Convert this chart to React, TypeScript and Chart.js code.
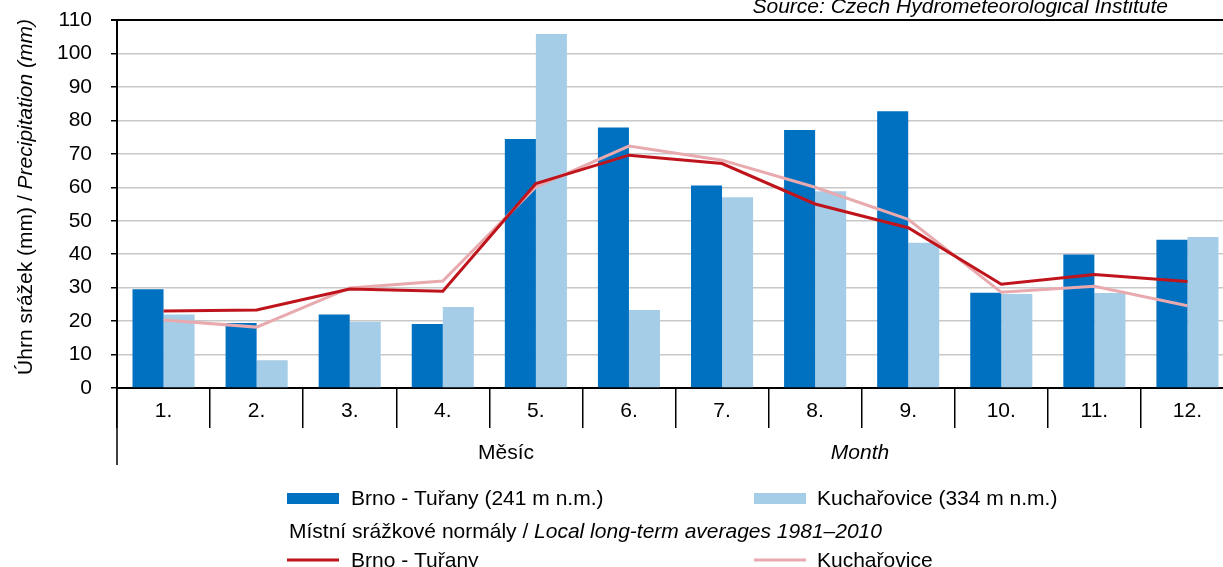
import React, { useEffect, useRef } from 'react';
import { Chart, registerables } from 'chart.js';

Chart.register(...registerables);

const months = ['1.', '2.', '3.', '4.', '5.', '6.', '7.', '8.', '9.', '10.', '11.', '12.'];
const brnoMonthly = [29.5, 19.4, 22.0, 19.1, 74.4, 77.9, 60.5, 77.1, 82.7, 28.5, 39.9, 44.3];
const kuchMonthly = [22.0, 8.3, 19.8, 24.2, 105.8, 23.3, 57.0, 58.8, 43.4, 28.1, 28.4, 45.1];
const brnoNormal = [23.0, 23.3, 29.6, 28.9, 61.1, 69.6, 67.1, 55.0, 47.9, 31.0, 33.9, 31.8];
const kuchNormal = [20.3, 18.2, 29.9, 32.0, 60.1, 72.3, 68.1, 60.0, 50.4, 28.6, 30.4, 24.6];
const yMin = 0;
const yMax = 110;
const yStep = 10;

const labelBrnoBar = 'Brno - Tuřany (241 m n.m.)';
const labelKuchBar = 'Kuchařovice (334 m n.m.)';
const labelBrnoLine = 'Brno - Tuřany';
const labelKuchLine = 'Kuchařovice';
const normalsTitle = [
  { text: 'Místní srážkové normály / ', italic: false },
  { text: 'Local long-term averages 1981–2010', italic: true },
];
const yTitle = [
  { text: 'Úhrn srážek (mm) / ', italic: false },
  { text: 'Precipitation (mm)', italic: true },
];
const xTitleCz = 'Měsíc';
const xTitleEn = 'Month';
const sourceText = 'Source: Czech Hydrometeorological Institute';

const DARK = '#0070C0';
const LIGHT = '#A6CDE7';
const RED = '#C0141D';
const PINK = '#E8AAAE';
const FAMILY = '"Liberation Sans", Arial, Helvetica, sans-serif';
const FS = 21;

function fontStr(italic: boolean, size = FS) {
  return `${italic ? 'italic ' : ''}${size}px ${FAMILY}`;
}

function drawMixed(ctx: CanvasRenderingContext2D, parts: { text: string; italic: boolean }[], x: number, y: number, align: 'left' | 'center') {
  let total = 0;
  for (const p of parts) {
    ctx.font = fontStr(p.italic);
    total += ctx.measureText(p.text).width;
  }
  let cx = align === 'center' ? x - total / 2 : x;
  ctx.textAlign = 'left';
  for (const p of parts) {
    ctx.font = fontStr(p.italic);
    ctx.fillText(p.text, cx, y);
    cx += ctx.measureText(p.text).width;
  }
}

const decorPlugin = {
  id: 'decor',
  afterDraw(chart: any) {
    const ctx: CanvasRenderingContext2D = chart.ctx;
    const area = chart.chartArea;
    ctx.save();
    ctx.fillStyle = '#000';
    ctx.textBaseline = 'alphabetic';

    // left axis extension below x axis
    ctx.strokeStyle = '#000';
    ctx.lineWidth = 1.5;
    ctx.beginPath();
    ctx.moveTo(area.left, area.bottom);
    ctx.lineTo(area.left, 465);
    ctx.stroke();

    // axis titles
    ctx.font = fontStr(false);
    ctx.textAlign = 'center';
    ctx.fillText(xTitleCz, 506, 459);
    ctx.font = fontStr(true);
    ctx.fillText(xTitleEn, 860, 459);

    // y title
    ctx.save();
    ctx.translate(32, 197);
    ctx.rotate(-Math.PI / 2);
    drawMixed(ctx, yTitle, 0, 0, 'center');
    ctx.restore();

    // source
    ctx.font = fontStr(true);
    ctx.textAlign = 'right';
    ctx.fillText(sourceText, 1168, 12.5);

    // legend
    ctx.fillStyle = DARK;
    ctx.fillRect(287, 493, 52, 11);
    ctx.fillStyle = LIGHT;
    ctx.fillRect(754, 493, 52, 11);
    ctx.fillStyle = '#000';
    ctx.textAlign = 'left';
    ctx.font = fontStr(false);
    ctx.fillText(labelBrnoBar, 351, 505);
    ctx.fillText(labelKuchBar, 817, 505);
    drawMixed(ctx, normalsTitle, 289, 538, 'left');

    ctx.lineWidth = 3;
    ctx.strokeStyle = RED;
    ctx.beginPath();
    ctx.moveTo(287, 560);
    ctx.lineTo(339, 560);
    ctx.stroke();
    ctx.strokeStyle = PINK;
    ctx.beginPath();
    ctx.moveTo(754, 560);
    ctx.lineTo(806, 560);
    ctx.stroke();
    ctx.fillStyle = '#000';
    ctx.font = fontStr(false);
    ctx.fillText(labelBrnoLine, 351, 567);
    ctx.fillText(labelKuchLine, 817, 567);

    ctx.restore();
  },
};

export default function App() {
  const ref = useRef<HTMLCanvasElement>(null);
  useEffect(() => {
    if (!ref.current) return;
    const chart = new Chart(ref.current, {
      type: 'bar',
      data: {
        labels: months,
        datasets: [
          {
            type: 'line',
            label: labelBrnoLine,
            data: brnoNormal,
            borderColor: RED,
            backgroundColor: RED,
            borderWidth: 3,
            pointRadius: 0,
            tension: 0,
            order: 0,
          } as any,
          {
            type: 'line',
            label: labelKuchLine,
            data: kuchNormal,
            borderColor: PINK,
            backgroundColor: PINK,
            borderWidth: 3,
            pointRadius: 0,
            tension: 0,
            order: 1,
          } as any,
          {
            type: 'bar',
            label: labelBrnoBar,
            data: brnoMonthly,
            backgroundColor: DARK,
            categoryPercentage: 0.667,
            barPercentage: 1,
            order: 2,
          },
          {
            type: 'bar',
            label: labelKuchBar,
            data: kuchMonthly,
            backgroundColor: LIGHT,
            categoryPercentage: 0.667,
            barPercentage: 1,
            order: 3,
          },
        ],
      },
      options: {
        animation: false,
        responsive: false,
        maintainAspectRatio: false,
        layout: { padding: { top: 20, right: 6, bottom: 139, left: 0 } },
        plugins: {
          legend: { display: false },
          tooltip: { enabled: false },
          title: { display: false },
        },
        scales: {
          x: {
            offset: true,
            grid: {
              offset: true,
              drawOnChartArea: false,
              drawTicks: true,
              tickLength: 40,
              color: '#000',
              lineWidth: 1.5,
            },
            border: { color: '#000', width: 2 },
            ticks: {
              color: '#000',
              font: { family: FAMILY, size: FS },
              padding: -29,
              maxRotation: 0,
              autoSkip: false,
            },
            afterFit: (scale: any) => {
              scale.height = 40;
            },
          },
          y: {
            min: yMin,
            max: yMax,
            ticks: {
              stepSize: yStep,
              color: '#000',
              font: { family: FAMILY, size: FS },
              padding: 19,
            },
            grid: {
              color: (c: any) => (c.tick && c.tick.value === yMax ? '#000' : '#C8C8C8'),
              lineWidth: (c: any) => (c.tick && c.tick.value === yMax ? 2 : 1.5),
              tickLength: 6,
              tickColor: '#000',
            },
            border: { color: '#000', width: 2 },
            afterFit: (scale: any) => {
              scale.width = 117;
              scale.paddingTop = 0;
              scale.paddingBottom = 0;
            },
          },
        },
      },
      plugins: [decorPlugin],
    });
    return () => chart.destroy();
  }, []);

  return (
    <div style={{ position: 'fixed', left: 0, top: 0, width: '100vw', height: '100vh', overflow: 'hidden', background: '#fff' }}>
      <canvas ref={ref} width={1240} height={567} style={{ display: 'block', width: 1240, height: 567 }} />
    </div>
  );
}
